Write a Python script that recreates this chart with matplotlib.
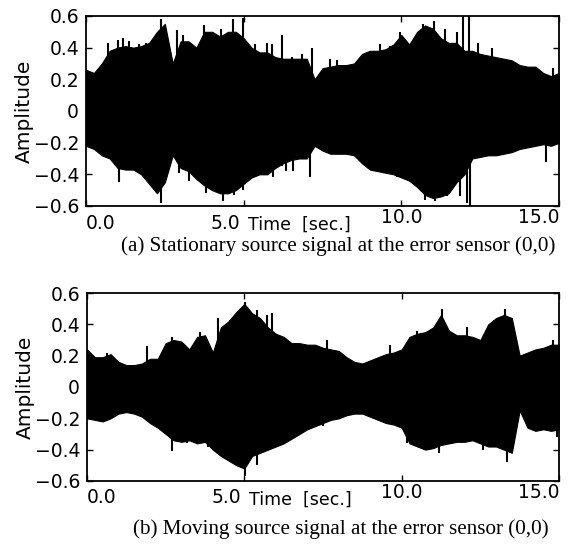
import numpy as np
import matplotlib
matplotlib.use('Agg')
import matplotlib.pyplot as plt

# --- Data (envelope of the signals, every 0.25 s) ---
TIME = np.arange(0, 15.01, 0.25)

# (a) stationary source
A_UPPER = [0.26, 0.24, 0.30, 0.38, 0.40, 0.41, 0.40, 0.41, 0.43, 0.50,
           0.55, 0.30, 0.44, 0.44, 0.40, 0.50, 0.50, 0.47, 0.50, 0.50,
           0.46, 0.40, 0.37, 0.37, 0.34, 0.33, 0.33, 0.33, 0.33, 0.20,
           0.27, 0.28, 0.29, 0.29, 0.30, 0.36, 0.38, 0.38, 0.39, 0.42,
           0.48, 0.42, 0.50, 0.54, 0.52, 0.46, 0.43, 0.43, 0.38, 0.38,
           0.36, 0.35, 0.34, 0.33, 0.32, 0.29, 0.28, 0.28, 0.24, 0.22,
           0.24]
A_LOWER = [-0.22, -0.24, -0.28, -0.30, -0.36, -0.37, -0.37, -0.40, -0.46, -0.52,
           -0.45, -0.28, -0.36, -0.38, -0.43, -0.47, -0.50, -0.52, -0.52, -0.50,
           -0.46, -0.42, -0.40, -0.40, -0.36, -0.33, -0.31, -0.30, -0.30, -0.22,
           -0.25, -0.27, -0.27, -0.27, -0.28, -0.33, -0.37, -0.38, -0.39, -0.40,
           -0.42, -0.44, -0.48, -0.53, -0.55, -0.54, -0.52, -0.45, -0.40, -0.30,
           -0.29, -0.28, -0.28, -0.27, -0.26, -0.24, -0.23, -0.22, -0.21, -0.22,
           -0.20]
A_SPIKE_UP_T = [0.69, 1.0, 1.16, 1.37, 1.69, 1.9, 2.38, 2.9, 3.07, 3.75, 4.28, 4.65, 4.97,
                5.36, 5.73, 5.89, 6.2, 6.53, 6.84, 7.16, 7.74, 7.95, 8.9, 9.32, 9.64, 9.95,
                10.7, 11.02, 11.39, 11.76, 11.97, 12.16, 12.44, 12.87, 14.8]
A_SPIKE_UP_V = [0.43, 0.45, 0.46, 0.44, 0.42, 0.43, 0.58, 0.51, 0.48, 0.54, 0.52, 0.58, 0.59,
                0.42, 0.43, 0.42, 0.48, 0.34, 0.36, 0.40, 0.33, 0.32, 0.34, 0.42, 0.41, 0.50,
                0.55, 0.57, 0.52, 0.50, 0.60, 0.60, 0.43, 0.40, 0.27]
A_SPIKE_DN_T = [1.06, 2.38, 2.96, 3.28, 3.8, 4.33, 4.7, 4.97, 5.2, 5.57, 5.94, 6.2, 6.35,
                6.55, 7.11, 9.1, 9.43, 9.85, 10.75, 11.07, 11.44, 11.86, 12.07, 12.18, 14.6]
A_SPIKE_DN_V = [-0.45, -0.58, -0.39, -0.44, -0.52, -0.57, -0.53, -0.50, -0.42, -0.39, -0.42,
                -0.35, -0.38, -0.38, -0.42, -0.36, -0.39, -0.42, -0.56, -0.57, -0.54, -0.54,
                -0.58, -0.60, -0.32]

# (b) moving source
B_UPPER = [0.24, 0.19, 0.19, 0.21, 0.16, 0.14, 0.14, 0.15, 0.18, 0.18,
           0.28, 0.30, 0.29, 0.24, 0.32, 0.33, 0.22, 0.38, 0.42, 0.48,
           0.53, 0.47, 0.44, 0.38, 0.34, 0.32, 0.28, 0.28, 0.27, 0.27,
           0.25, 0.24, 0.23, 0.19, 0.16, 0.15, 0.17, 0.19, 0.21, 0.22,
           0.24, 0.32, 0.34, 0.35, 0.38, 0.46, 0.36, 0.33, 0.33, 0.32,
           0.30, 0.40, 0.44, 0.46, 0.44, 0.20, 0.22, 0.24, 0.25, 0.27,
           0.27]
B_LOWER = [-0.20, -0.21, -0.22, -0.20, -0.17, -0.16, -0.17, -0.19, -0.23, -0.26,
           -0.30, -0.34, -0.35, -0.34, -0.36, -0.35, -0.40, -0.44, -0.47, -0.50,
           -0.52, -0.44, -0.42, -0.40, -0.38, -0.36, -0.33, -0.30, -0.27, -0.25,
           -0.23, -0.21, -0.20, -0.18, -0.17, -0.17, -0.19, -0.21, -0.23, -0.24,
           -0.26, -0.36, -0.38, -0.40, -0.39, -0.37, -0.36, -0.35, -0.35, -0.34,
           -0.36, -0.38, -0.38, -0.40, -0.42, -0.15, -0.26, -0.28, -0.27, -0.28,
           -0.27]
B_SPIKE_UP_T = [0.63, 1.9, 2.69, 3.59, 4.17, 4.55, 5.02, 5.39, 5.71, 5.87,
                7.62, 9.63, 10.48, 11.27, 12.07, 12.92, 13.29, 14.82]
B_SPIKE_UP_V = [0.22, 0.26, 0.32, 0.35, 0.44, 0.43, 0.54, 0.49, 0.46, 0.47,
                0.30, 0.27, 0.36, 0.50, 0.38, 0.43, 0.50, 0.30]
B_SPIKE_DN_T = [2.69, 3.17, 3.86, 5.02, 5.39, 7.51, 10.16, 11.2, 12.59, 13.34, 14.93]
B_SPIKE_DN_V = [-0.41, -0.36, -0.38, -0.57, -0.50, -0.25, -0.36, -0.42, -0.40, -0.48, -0.32]

Y_TICKS = [-0.6, -0.4, -0.2, 0, 0.2, 0.4, 0.6]
Y_TICK_LABELS = ['\u22120.6', '\u22120.4', '\u22120.2', '0', '0.2', '0.4', '0.6']
X_TICKS = [0, 5, 10, 15]
X_TICK_LABELS = ['0.0', '5.0', '10.0', '15.0']
CAPTIONS = ['(a) Stationary source signal at the error sensor (0,0)',
            '(b) Moving source signal at the error sensor (0,0)']

SANS = 'DejaVu Sans'
SERIF = 'Liberation Serif'
FS = 13.5


def draw_panel(ax, upper, lower, up_t, up_v, dn_t, dn_v):
    ax.fill_between(TIME, lower, upper, color='black', linewidth=0.8, edgecolor='black')
    ax.vlines(up_t, 0, up_v, color='black', linewidth=1.5)
    ax.vlines(dn_t, dn_v, 0, color='black', linewidth=1.5)
    ax.set_xlim(0, 15)
    ax.set_ylim(-0.6, 0.6)
    ax.set_yticks(Y_TICKS)
    ax.set_yticklabels(Y_TICK_LABELS, fontfamily=SANS, fontsize=FS)
    ax.set_xticks(X_TICKS)
    ax.set_xticklabels([])
    ax.tick_params(direction='in', length=4, width=1, top=True, right=True, pad=5)
    for s in ax.spines.values():
        s.set_linewidth(1.3)
    ax.set_ylabel('Amplitude', fontfamily=SANS, fontsize=14.5, labelpad=0)

    # x tick labels sit in odd places in the original, so place them by hand
    tr = ax.get_xaxis_transform()
    ax.text(X_TICKS[0], -0.04, X_TICK_LABELS[0], transform=tr, ha='left', va='top',
            fontfamily=SANS, fontsize=FS)
    ax.text(X_TICKS[1] - 0.1, -0.04, X_TICK_LABELS[1], transform=tr, ha='right', va='top',
            fontfamily=SANS, fontsize=FS)
    ax.text(X_TICKS[2], -0.01, X_TICK_LABELS[2], transform=tr, ha='center', va='top',
            fontfamily=SANS, fontsize=FS)
    ax.text(X_TICKS[3], -0.01, X_TICK_LABELS[3], transform=tr, ha='right', va='top',
            fontfamily=SANS, fontsize=FS)
    ax.text(5.15, -0.05, 'Time  [sec.]', transform=tr, ha='left', va='top',
            fontfamily=SANS, fontsize=12.5)


fig = plt.figure(figsize=(5.82, 5.49), dpi=100)
ax1 = fig.add_axes([0.1478, 0.6248, 0.8127, 0.3461])
ax2 = fig.add_axes([0.1495, 0.1239, 0.8110, 0.3424])

draw_panel(ax1, A_UPPER, A_LOWER, A_SPIKE_UP_T, A_SPIKE_UP_V, A_SPIKE_DN_T, A_SPIKE_DN_V)
draw_panel(ax2, B_UPPER, B_LOWER, B_SPIKE_UP_T, B_SPIKE_UP_V, B_SPIKE_DN_T, B_SPIKE_DN_V)

fig.text(338 / 582, 1 - 246 / 549, CAPTIONS[0], ha='center', va='center',
         fontfamily=SERIF, fontsize=15.2)
fig.text(341 / 582, 1 - 529 / 549, CAPTIONS[1], ha='center', va='center',
         fontfamily=SERIF, fontsize=15.2)

fig.savefig('out.png', dpi=100)
